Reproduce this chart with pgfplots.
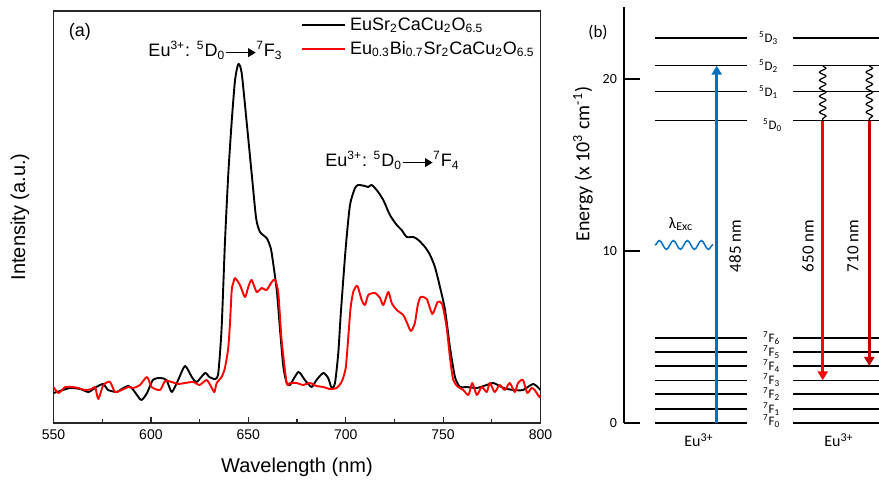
\documentclass[border=0pt]{standalone}
\usepackage{pgfplots}
\pgfplotsset{compat=1.18}
\usepackage{fontspec}
\setmainfont{Liberation Sans}
\newfontfamily\calibri{Carlito}
\usetikzlibrary{arrows.meta,decorations.pathmorphing}
\definecolor{arrowblue}{RGB}{0,112,192}
\definecolor{darkred}{RGB}{192,0,0}
\newcommand{\tarrow}{\tikz[baseline=-2.2pt]\draw[line width=0.55pt,-{Triangle[length=3.8pt,width=4.4pt]}] (0,0) -- (15pt,0);}
\newcommand{\lev}[3]{\addplot[black,line width=0.75pt] coordinates {(#1,#3) (#2,#3)};}

\pgfplotstableread{
x y
550 30
553.4 32
558.5 35
563.7 34
568 31
572 36
575.6 39
578 33
582.5 31
585 34
588.5 37
591 33
595 23
598 30
601 43
604.7 45
608 43
610.7 31
614 43
617.5 57
621 46
623.5 41
627.8 50
630 46
633 44
634.6 50
636.3 95
638 180
639.7 248
641.5 302
643.2 343
644.9 359
646.6 350
649.2 300
651.7 250
654 205
656 191
659.4 185
661 178
662 170
664.6 133
666.3 93
668 56
669.7 40
671.4 38
675.7 51
679 43
682.5 36
685 43
688.5 50
691 45
692.8 35
694.5 40
696.2 70
697.5 110
700 175
702.2 218
704.8 235
706.5 238
709.9 237
711.6 236
713.3 238
715.9 233
719.3 223
722.7 208
726.2 198
728.7 193
731.3 186
734.7 186
737.3 183
740.7 176
743.3 168
745.8 156
748.4 136
751 113
753.5 76
756.1 46
758.7 36
762 36
767.3 35
772.4 38
775.8 40
781 35
786 33
791 33
796.3 39
800 33
}\blacktab

\pgfplotstableread{
x y
550 36
552.6 30
556 36
559.4 36
562.8 35
566 33
569.7 34
571.4 36
573 24
575.6 38
579 41
581.6 31
585 33
588.5 36
591 35
594.4 38
598 46
600.4 36
604.7 33
607.3 42
610.7 41
614 39
617.5 40
621.8 41
625 38
628.6 43
631 36
632.6 31
633.8 40
636.3 46
638 55
639.7 75
640.6 100
641.5 133
642.3 140
643.2 145
645.7 138
648.3 126
650 136
651.7 143
654.3 131
656.9 135
659.4 133
662 141
663.7 143
665.4 130
667.1 83
669.7 40
671.4 40
674.8 40
678 38
681.6 40
685 37
688.5 36
691.8 34
695.3 35
697.9 41
700 55
701.3 85
702.5 115
704 132
706 137
708.2 123
709.9 118
711.6 128
715 130
717.6 125
719.3 118
721.9 131
723.6 120
726.2 113
729.5 108
731.5 100
733.5 92
735.5 100
737 118
738.5 126
741.6 124
744.5 109
747.2 121
749.5 119
751.8 96
753.5 66
755.2 43
757.8 36
760.4 33
763 28
765 40
767.3 28
769.8 36
772.4 31
774 40
776.5 31
779 38
781.7 33
784.2 40
786.8 31
788.5 40
791 43
793.2 30
795.4 35
797 33
799.4 26
800 28
}\redtab

\begin{document}
\begin{tikzpicture}
\useasboundingbox (0,0) rectangle (439.5pt,240pt);
\clip (0,0) rectangle (439.5pt,240pt);

% ---------- panel (a) ----------
\begin{axis}[
  at={(26.75pt,28.5pt)}, anchor=south west,
  scale only axis, width=243.5pt, height=206pt,
  xmin=550, xmax=800, ymin=0, ymax=412,
  xtick={550,600,...,800}, minor x tick num=1,
  ytick=\empty, xtick pos=left,
  tick align=inside,
  major tick length=3pt, minor tick length=2pt,
  axis line style={line width=0.7pt, black!85},
  every tick/.style={line width=0.6pt, black!85},
  tick label style={font=\fontsize{7}{8}\selectfont},
  /pgf/number format/assume math mode=true,
  xlabel={Wavelength (nm)}, ylabel={Intensity (a.u.)},
  label style={font=\fontsize{9}{10}\selectfont},
  every axis x label/.style={at={(axis description cs:0.5,0)}, anchor=base, yshift=-25pt},
  every axis y label/.style={at={(axis description cs:-0.0688,0.5)}, anchor=center, rotate=90},
  legend style={draw=none, fill=none, at={(axis description cs:0.508,0.995)}, anchor=north west,
     font=\fontsize{9}{10}\selectfont, inner sep=0pt, row sep=0pt},
  legend cell align=left,
  legend image code/.code={\draw[#1] (0pt,0pt) -- (21.5pt,0pt);},
]
\addplot[black, line width=0.95pt, smooth, tension=0.4, line join=round] table {\blacktab};
\addlegendentry{EuSr\textsubscript{2}CaCu\textsubscript{2}O\textsubscript{6.5}}
\addplot[red, line width=0.95pt, smooth, tension=0.4, line join=round] table {\redtab};
\addlegendentry{Eu\textsubscript{0.3}Bi\textsubscript{0.7}Sr\textsubscript{2}CaCu\textsubscript{2}O\textsubscript{6.5}}
\node[font=\fontsize{9}{10}\selectfont, anchor=center] at (axis cs:563.6,391) {(a)};
\node[font=\fontsize{9}{10}\selectfont, anchor=base] at (axis cs:633.2,366)
  {Eu\textsuperscript{3+}: \textsuperscript{5}D\textsubscript{0}\tarrow\textsuperscript{7}F\textsubscript{3}};
\node[font=\fontsize{9}{10}\selectfont, anchor=base] at (axis cs:724.0,256)
  {Eu\textsuperscript{3+}: \textsuperscript{5}D\textsubscript{0}\tarrow\textsuperscript{7}F\textsubscript{4}};
\end{axis}

% ---------- panel (b) ----------
\begin{axis}[
  at={(312pt,28.5pt)}, anchor=south west,
  scale only axis, width=138pt, height=208pt,
  xmin=624, xmax=900, ymin=0, ymax=24.16,
  axis x line=none, axis y line*=left,
  y axis line style={line width=1pt, black},
  ytick={0,10,20}, tick align=inside, major tick length=8pt,
  every tick/.style={line width=1pt, black},
  yticklabel style={font=\calibri\fontsize{7}{8}\selectfont},
  /pgf/number format/assume math mode=true,
  clip=false,
  ylabel={Energy (x 10\textsuperscript{3} cm\textsuperscript{-1})},
  every axis y label/.style={at={(axis description cs:-0.149,0.622)}, anchor=center, rotate=90,
      font=\calibri\fontsize{10}{11}\selectfont},
]
% levels
\lev{655}{747}{22.37}
\lev{655}{747}{20.75}
\lev{655}{747}{19.24}
\lev{655}{747}{17.56}
\lev{655}{747}{4.95}
\lev{655}{747}{4.12}
\lev{655}{747}{3.31}
\lev{655}{747}{2.48}
\lev{655}{747}{1.67}
\lev{655}{747}{0.81}
\lev{655}{747}{0}
\lev{793}{905}{22.37}
\lev{793}{905}{20.75}
\lev{793}{905}{19.24}
\lev{793}{905}{17.56}
\lev{793}{905}{4.95}
\lev{793}{905}{4.12}
\lev{793}{905}{3.31}
\lev{793}{905}{2.48}
\lev{793}{905}{1.67}
\lev{793}{905}{0.81}
\lev{793}{905}{0}
% excitation
\addplot[arrowblue, line width=0.75pt, decorate, decoration={snake, amplitude=2.2pt, segment length=7pt}]
  coordinates {(655,10.34) (713,10.34)};
\addplot[arrowblue, line width=1.5pt, -{Triangle[width=5pt,length=4.5pt]}]
  coordinates {(716.7,0) (716.7,20.75)};
% non-radiative
\addplot[black, line width=0.6pt, decorate, decoration={snake, amplitude=1.6pt, segment length=4pt}]
  coordinates {(822.7,20.75) (822.7,17.56)};
\addplot[black, line width=0.6pt, decorate, decoration={snake, amplitude=1.6pt, segment length=4pt}]
  coordinates {(869.3,20.75) (869.3,17.56)};
% emission
\addplot[red, line width=1.5pt, -{Triangle[width=5pt,length=4.5pt]}]
  coordinates {(822.7,17.56) (822.7,2.48)};
\addplot[darkred, line width=1.5pt, -{Triangle[width=5pt,length=4.5pt]}]
  coordinates {(869.3,17.56) (869.3,3.31)};
% labels
\begin{scope}[every node/.style={font=\calibri\fontsize{6.5}{7}\selectfont, anchor=west}]
\node at (axis cs:752,22.37) {\textsuperscript{5}D\textsubscript{3}};
\node at (axis cs:752,20.75) {\textsuperscript{5}D\textsubscript{2}};
\node at (axis cs:752,19.24) {\textsuperscript{5}D\textsubscript{1}};
\node at (axis cs:756,17.3) {\textsuperscript{5}D\textsubscript{0}};
\node at (axis cs:756,4.95) {\textsuperscript{7}F\textsubscript{6}};
\node at (axis cs:756,4.12) {\textsuperscript{7}F\textsubscript{5}};
\node at (axis cs:756,3.31) {\textsuperscript{7}F\textsubscript{4}};
\node at (axis cs:756,2.48) {\textsuperscript{7}F\textsubscript{3}};
\node at (axis cs:756,1.67) {\textsuperscript{7}F\textsubscript{2}};
\node at (axis cs:756,0.81) {\textsuperscript{7}F\textsubscript{1}};
\node at (axis cs:756,0.1) {\textsuperscript{7}F\textsubscript{0}};
\end{scope}
\node[font=\calibri\fontsize{8}{9}\selectfont] at (axis cs:699,-1.0) {Eu\textsuperscript{3+}};
\node[font=\calibri\fontsize{8}{9}\selectfont] at (axis cs:839,-1.0) {Eu\textsuperscript{3+}};
\node[font=\calibri\fontsize{8.5}{9}\selectfont, rotate=90] at (axis cs:735,10.28) {485 nm};
\node[font=\calibri\fontsize{8.5}{9}\selectfont, rotate=90] at (axis cs:808,10.28) {650 nm};
\node[font=\calibri\fontsize{8.5}{9}\selectfont, rotate=90] at (axis cs:853,10.28) {710 nm};
\node[font=\calibri\fontsize{8}{9}\selectfont] at (axis cs:681,11.55) {λ\textsubscript{Exc}};
\node[font=\calibri\fontsize{8.5}{9}\selectfont] at (axis cs:598,22.7) {(b)};
\end{axis}
\end{tikzpicture}
\end{document}
